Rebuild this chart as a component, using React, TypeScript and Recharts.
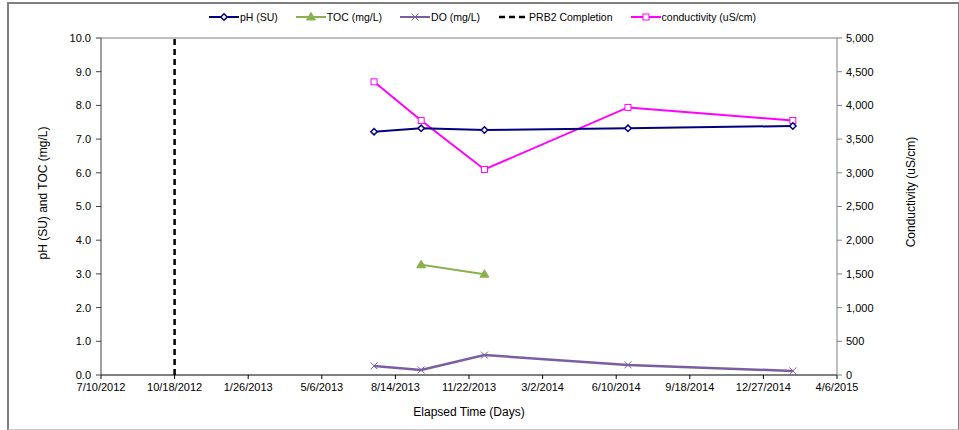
import React from 'react';
import {
  ComposedChart,
  Line,
  XAxis,
  YAxis,
  Legend,
  ReferenceLine,
} from 'recharts';

// sample dates (M/D/YYYY)
const sampleDates = ['7/16/2013', '9/18/2013', '12/13/2013', '6/26/2014', '2/5/2015'];
const phValues = [7.22, 7.32, 7.27, 7.32, 7.39];
const doValues = [0.27, 0.15, 0.59, 0.3, 0.12];
const conductivityValues = [4350, 3775, 3050, 3970, 3775];

const tocDates = ['9/18/2013', '12/13/2013'];
const tocValues = [3.27, 2.99];

const prbDates = ['10/18/2012', '10/18/2012'];
const prbValues = [0, 10];

const xTickLabels = [
  '7/10/2012', '10/18/2012', '1/26/2013', '5/6/2013', '8/14/2013', '11/22/2013',
  '3/2/2014', '6/10/2014', '9/18/2014', '12/27/2014', '4/6/2015',
];
const leftTicks = [0, 1, 2, 3, 4, 5, 6, 7, 8, 9, 10];
const rightTicks = [0, 500, 1000, 1500, 2000, 2500, 3000, 3500, 4000, 4500, 5000];

const FONT = '"Liberation Sans", Arial, sans-serif';
const PH = '#000080';
const TOC = '#8DB04F';
const DO = '#7B5EA2';
const COND = '#FF00FF';

const toDay = (s: string) => {
  const [m, d, y] = s.split('/').map(Number);
  return Date.UTC(y, m - 1, d) / 86400000;
};
const fmtDay = (v: number) => {
  const dt = new Date(Math.round(v) * 86400000);
  return `${dt.getUTCMonth() + 1}/${dt.getUTCDate()}/${dt.getUTCFullYear()}`;
};

const xTicks = xTickLabels.map(toDay);

const phData = sampleDates.map((d, i) => ({ t: toDay(d), v: phValues[i] }));
const doData = sampleDates.map((d, i) => ({ t: toDay(d), v: doValues[i] }));
const condData = sampleDates.map((d, i) => ({ t: toDay(d), v: conductivityValues[i] }));
const tocData = tocDates.map((d, i) => ({ t: toDay(d), v: tocValues[i] }));
const prbData = prbDates.map((d, i) => ({ t: toDay(d), v: prbValues[i] }));

// marker shapes
const Diamond = ({ cx, cy, index }: any) => (
  <polygon
    key={`ph-${index}`}
    points={`${cx},${cy - 3.2} ${cx + 3.2},${cy} ${cx},${cy + 3.2} ${cx - 3.2},${cy}`}
    fill="#fff"
    stroke={PH}
    strokeWidth={1.5}
  />
);
const Triangle = ({ cx, cy, index }: any) => (
  <polygon
    key={`toc-${index}`}
    points={`${cx},${cy - 4.5} ${cx + 4.5},${cy + 3} ${cx - 4.5},${cy + 3}`}
    fill={TOC}
    stroke={TOC}
  />
);
const Cross = ({ cx, cy, index }: any) => (
  <path
    key={`do-${index}`}
    d={`M${cx - 3.5},${cy - 3.5}L${cx + 3.5},${cy + 3.5}M${cx - 3.5},${cy + 3.5}L${cx + 3.5},${cy - 3.5}`}
    stroke={DO}
    strokeWidth={1}
    fill="none"
  />
);
const Square = ({ cx, cy, index }: any) => (
  <rect
    key={`c-${index}`}
    x={cx - 3}
    y={cy - 3}
    width={6}
    height={6}
    fill="#fff"
    stroke={COND}
    strokeWidth={1}
  />
);

const legendItems = [
  { label: 'pH (SU)', color: PH, marker: 'diamond' },
  { label: 'TOC (mg/L)', color: TOC, marker: 'triangle' },
  { label: 'DO (mg/L)', color: DO, marker: 'cross' },
  { label: 'PRB2 Completion', color: '#000', marker: 'dash' },
  { label: 'conductivity (uS/cm)', color: COND, marker: 'square' },
];

const LegendIcon = ({ color, marker }: { color: string; marker: string }) => (
  <svg width={30} height={10} style={{ marginRight: 1 }}>
    {marker === 'dash' ? (
      <line x1={1} y1={5} x2={29} y2={5} stroke={color} strokeWidth={2.5} strokeDasharray="6 4" />
    ) : (
      <line x1={0} y1={5} x2={30} y2={5} stroke={color} strokeWidth={2} />
    )}
    {marker === 'diamond' && <Diamond cx={15} cy={5} index={0} />}
    {marker === 'triangle' && <Triangle cx={15} cy={5} index={0} />}
    {marker === 'cross' && <Cross cx={15} cy={5} index={0} />}
    {marker === 'square' && <Square cx={15} cy={5} index={0} />}
  </svg>
);

const ChartLegend = () => (
  <div
    style={{
      height: 24,
      display: 'flex',
      alignItems: 'center',
      justifyContent: 'center',
      fontFamily: FONT,
      fontSize: 10.5,
      color: '#000',
      paddingLeft: 24,
    }}
  >
    {legendItems.map((it) => (
      <div key={it.label} style={{ display: 'flex', alignItems: 'center', marginRight: 18 }}>
        <LegendIcon color={it.color} marker={it.marker} />
        <span>{it.label}</span>
      </div>
    ))}
  </div>
);

const axisTick = { fill: '#000', fontSize: 11, fontFamily: FONT };

export default function App() {
  return (
    <div style={{ position: 'absolute', left: 0, top: 0, width: 959, height: 430, background: '#fff' }}>
      <ComposedChart
        width={959}
        height={430}
        margin={{ top: 14, right: 0, bottom: 0, left: 0 }}
      >
        <Legend verticalAlign="top" content={<ChartLegend />} wrapperStyle={{ top: 5, left: 0, width: 959 }} />
        <XAxis
          type="number"
          dataKey="t"
          domain={[xTicks[0], xTicks[xTicks.length - 1]]}
          ticks={xTicks}
          tickFormatter={fmtDay}
          tick={axisTick}
          tickSize={4}
          tickMargin={4}
          height={55}
          stroke="#000"
          allowDataOverflow
          label={{
            value: 'Elapsed Time (Days)',
            position: 'insideBottom',
            offset: 14,
            style: { fill: '#000', fontSize: 12, fontFamily: FONT },
          }}
        />
        <YAxis
          yAxisId="left"
          domain={[0, 10]}
          ticks={leftTicks}
          tickFormatter={(v: number) => v.toFixed(1)}
          tick={axisTick}
          tickSize={5}
          tickMargin={5}
          width={101}
          stroke="#404040"
          interval={0}
          label={() => (
            <text
              x={43}
              y={193}
              transform="rotate(-90, 43, 193)"
              textAnchor="middle"
              dominantBaseline="central"
              fill="#000"
              fontSize={12}
              fontFamily={FONT}
            >
              pH (SU) and TOC (mg/L)
            </text>
          )}
        />
        <YAxis
          yAxisId="right"
          orientation="right"
          domain={[0, 5000]}
          ticks={rightTicks}
          tickFormatter={(v: number) => v.toLocaleString('en-US')}
          tick={axisTick}
          tickSize={5}
          tickMargin={4}
          width={122}
          stroke="#808080"
          interval={0}
          label={() => (
            <text
              x={911}
              y={192}
              transform="rotate(-90, 911, 192)"
              textAnchor="middle"
              dominantBaseline="central"
              fill="#000"
              fontSize={12}
              fontFamily={FONT}
            >
              Conductivity (uS/cm)
            </text>
          )}
        />
        {/* plot area top border */}
        <ReferenceLine yAxisId="left" y={10} stroke="#808080" strokeWidth={1} />

        <Line
          yAxisId="left"
          data={prbData}
          dataKey="v"
          type="linear"
          stroke="#000"
          strokeWidth={2.5}
          strokeDasharray="6 4"
          dot={false}
          activeDot={false}
          isAnimationActive={false}
        />
        <Line
          yAxisId="right"
          data={condData}
          dataKey="v"
          type="linear"
          stroke={COND}
          strokeWidth={2}
          dot={Square}
          activeDot={false}
          isAnimationActive={false}
        />
        <Line
          yAxisId="left"
          data={phData}
          dataKey="v"
          type="linear"
          stroke={PH}
          strokeWidth={2}
          dot={Diamond}
          activeDot={false}
          isAnimationActive={false}
        />
        <Line
          yAxisId="left"
          data={tocData}
          dataKey="v"
          type="linear"
          stroke={TOC}
          strokeWidth={2}
          dot={Triangle}
          activeDot={false}
          isAnimationActive={false}
        />
        <Line
          yAxisId="left"
          data={doData}
          dataKey="v"
          type="linear"
          stroke={DO}
          strokeWidth={2.5}
          dot={Cross}
          activeDot={false}
          isAnimationActive={false}
        />
      </ComposedChart>
      <div
        style={{
          position: 'absolute',
          left: 7,
          top: 2,
          width: 949,
          height: 425,
          borderLeft: '2px solid #7f7f7f',
          borderTop: '2px solid #7f7f7f',
          borderRight: '2px solid #7f7f7f',
          borderBottom: '1px solid #c8c8c8',
          pointerEvents: 'none',
        }}
      />
    </div>
  );
}
